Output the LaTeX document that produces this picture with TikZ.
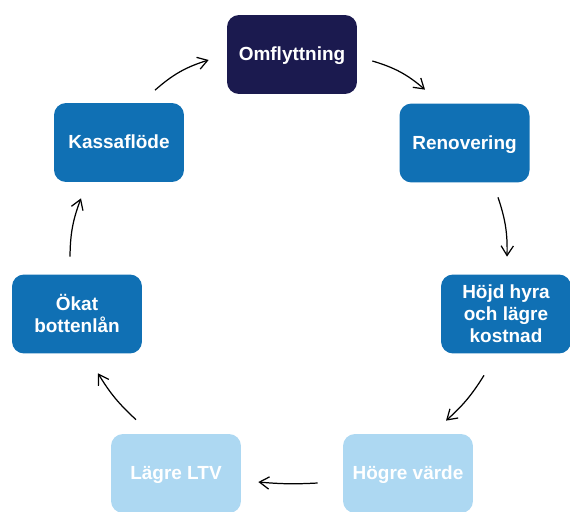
\documentclass[tikz,border=0pt]{standalone}
\usepackage{fontspec}
\setmainfont{Liberation Sans}
\usepackage{tikz}
\usetikzlibrary{arrows.meta}
\definecolor{navyblue}{HTML}{1B1A4F}
\definecolor{midblue}{HTML}{1070B4}
\definecolor{paleblue}{HTML}{ADD8F2}

\tikzset{
  stepbox/.style={rounded corners=0.24cm, minimum width=2.6cm, minimum height=1.58cm,
    text=white, align=center, inner sep=2pt, text depth=0.5pt,
    font=\fontsize{10.8}{12.4}\selectfont\bfseries},
  cyclearrow/.style={-{Straight Barb[length=5.5pt,width=7pt]}, line width=0.7pt}
}

\begin{document}
\begin{tikzpicture}[x=0.02cm, y=0.02cm]
        % Frame
        \useasboundingbox (0,0) rectangle (570,511);
        % Steps of the cycle
        \node[stepbox, fill=navyblue] (om) at (292,456.5) {Omflyttning};
        \node[stepbox, fill=midblue] (ren) at (464.5,368) {Renovering};
        \node[stepbox, fill=midblue] (hoj) at (506,197) {Höjd hyra\\och lägre\\kostnad};
        \node[stepbox, fill=paleblue] (hog) at (408,37.5) {Högre värde};
        \node[stepbox, fill=paleblue] (lag) at (176,37.5) {Lägre LTV};
        \node[stepbox, fill=midblue] (oka) at (77,197) {Ökat\\bottenlån};
        \node[stepbox, fill=midblue] (kas) at (119,368.5) {Kassaflöde};
        % Arrows
        \draw[cyclearrow] ([shift={(15,-6.5)}]om.east) to[bend left=12] ([shift={(-39.5,13.5)}]ren.north);
        \draw[cyclearrow] ([shift={(33.5,-14.5)}]ren.south) to[bend left=10] ([shift={(1,17.5)}]hoj.north);
        \draw[cyclearrow] ([shift={(-22,-21.5)}]hoj.south) to[bend left=8] ([shift={(38,13)}]hog.north);
        \draw[cyclearrow] ([shift={(-25,-9.5)}]hog.west) to[bend left=4] ([shift={(17,-8.5)}]lag.east);
        \draw[cyclearrow] ([shift={(-40,14)}]lag.north) to[bend left=8] ([shift={(21,-19.5)}]oka.south);
        \draw[cyclearrow] ([shift={(-7,17.5)}]oka.north) to[bend left=10] ([shift={(-38,-16)}]kas.south);
        \draw[cyclearrow] ([shift={(36,12.5)}]kas.north) to[bend left=12] ([shift={(-18,-5.5)}]om.west);
\end{tikzpicture}
\end{document}
